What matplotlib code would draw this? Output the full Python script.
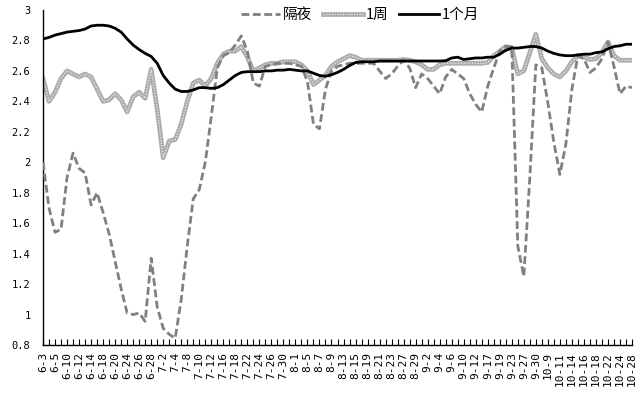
import matplotlib
matplotlib.use("Agg")
import matplotlib.pyplot as plt

plt.rcParams['font.family'] = ['Noto Sans CJK SC', 'DejaVu Sans']

dates = ["6-3","6-4","6-5","6-8","6-10","6-11","6-12","6-13","6-14","6-17",
         "6-18","6-19","6-20","6-21","6-24","6-25","6-26","6-27","6-28","7-1",
         "7-2","7-3","7-4","7-5","7-8","7-9","7-10","7-11","7-12","7-15",
         "7-16","7-17","7-18","7-19","7-22","7-23","7-24","7-25","7-26","7-29",
         "7-30","7-31","8-1","8-2","8-5","8-6","8-7","8-8","8-9","8-12",
         "8-13","8-14","8-15","8-16","8-19","8-20","8-21","8-22","8-23","8-26",
         "8-27","8-28","8-29","8-30","9-2","9-3","9-4","9-5","9-6","9-9",
         "9-10","9-11","9-12","9-16","9-17","9-18","9-19","9-22","9-23","9-24",
         "9-27","9-29","9-30","10-8","10-9","10-10","10-11","10-13","10-14","10-15",
         "10-16","10-17","10-18","10-21","10-22","10-23","10-24","10-25","10-28"]

overnight = [2.00,1.70,1.54,1.56,1.90,2.06,1.96,1.93,1.72,1.80,
             1.67,1.53,1.35,1.17,1.01,1.00,1.01,0.955,1.37,1.05,
             0.91,0.87,0.845,1.10,1.45,1.76,1.82,2.00,2.30,2.62,
             2.70,2.72,2.77,2.83,2.73,2.52,2.50,2.63,2.64,2.65,
             2.65,2.65,2.64,2.63,2.53,2.25,2.22,2.48,2.60,2.63,
             2.64,2.65,2.65,2.65,2.65,2.65,2.60,2.55,2.58,2.63,
             2.67,2.62,2.49,2.58,2.55,2.50,2.45,2.56,2.61,2.58,
             2.55,2.45,2.38,2.33,2.50,2.62,2.73,2.76,2.76,1.45,
             1.25,1.90,2.64,2.62,2.39,2.13,1.92,2.12,2.48,2.70,
             2.68,2.59,2.62,2.68,2.79,2.63,2.45,2.50,2.49]

week = [2.55,2.40,2.46,2.55,2.60,2.58,2.56,2.58,2.56,2.48,
        2.40,2.41,2.45,2.41,2.33,2.43,2.46,2.42,2.61,2.35,
        2.03,2.14,2.15,2.25,2.40,2.52,2.54,2.50,2.55,2.65,
        2.71,2.73,2.73,2.76,2.69,2.60,2.62,2.64,2.65,2.65,
        2.66,2.66,2.66,2.64,2.60,2.51,2.54,2.57,2.63,2.66,
        2.68,2.70,2.69,2.67,2.67,2.67,2.67,2.67,2.67,2.67,
        2.675,2.67,2.66,2.64,2.61,2.61,2.64,2.65,2.65,2.65,
        2.65,2.65,2.65,2.65,2.655,2.70,2.73,2.76,2.75,2.58,
        2.60,2.72,2.84,2.68,2.62,2.58,2.56,2.60,2.66,2.70,
        2.69,2.675,2.68,2.72,2.79,2.70,2.67,2.67,2.67]

month = [2.81,2.82,2.835,2.845,2.855,2.86,2.865,2.875,2.895,2.90,
         2.90,2.895,2.88,2.855,2.81,2.77,2.74,2.715,2.695,2.65,
         2.57,2.52,2.48,2.465,2.465,2.475,2.49,2.49,2.485,2.49,
         2.51,2.54,2.57,2.59,2.595,2.595,2.595,2.60,2.60,2.605,
         2.605,2.61,2.605,2.60,2.60,2.585,2.57,2.565,2.575,2.59,
         2.61,2.635,2.655,2.66,2.66,2.66,2.665,2.665,2.665,2.665,
         2.665,2.665,2.665,2.665,2.665,2.665,2.665,2.667,2.685,2.69,
         2.675,2.68,2.685,2.685,2.69,2.69,2.71,2.735,2.75,2.75,
         2.755,2.76,2.76,2.75,2.73,2.715,2.705,2.70,2.70,2.705,
         2.71,2.71,2.72,2.725,2.745,2.76,2.765,2.775,2.775]

series_names = ["隔夜", "1周", "1个月"]
yticks = [0.8, 1, 1.2, 1.4, 1.6, 1.8, 2, 2.2, 2.4, 2.6, 2.8, 3]

fig = plt.figure(figsize=(6.43, 3.97), dpi=100)
ax = fig.add_axes([43/643, 52/397, 589/643, 335/397])

x = list(range(len(dates)))
l1, = ax.plot(x, overnight, color="#808080", lw=2, dashes=(2.8, 1.3), zorder=3)
l2, = ax.plot(x, week, color="#ababab", lw=3.4, zorder=2)
l2b, = ax.plot(x, week, color="white", lw=1.0, dashes=(0.8, 1.2), alpha=0.8, zorder=2.1)
l3, = ax.plot(x, month, color="black", lw=2, zorder=4)

ax.set_xlim(0, len(dates) - 1)
ax.set_ylim(0.8, 3)
ax.set_yticks(yticks)
ax.set_yticklabels([f"{v:g}" for v in yticks], family="DejaVu Sans Mono", fontsize=7.5)
ax.tick_params(axis="y", length=0, pad=9)

ax.set_xticks(x)
ax.set_xticklabels([d if i % 2 == 0 else "" for i, d in enumerate(dates)],
                   rotation=90, fontsize=8, family="DejaVu Sans Mono")
ax.tick_params(axis="x", direction="in", length=4, width=0.8, pad=5)

for s in ["top", "right"]:
    ax.spines[s].set_visible(False)
for s in ["left", "bottom"]:
    ax.spines[s].set_linewidth(1)

leg = fig.legend([l1, (l2, l2b), l3], series_names, loc="center",
                 bbox_to_anchor=(0.56, 0.963), ncol=3, frameon=False,
                 fontsize=10.5, handlelength=2.7, columnspacing=0.75, handletextpad=0.2)

fig.savefig("out.png", dpi=100)
